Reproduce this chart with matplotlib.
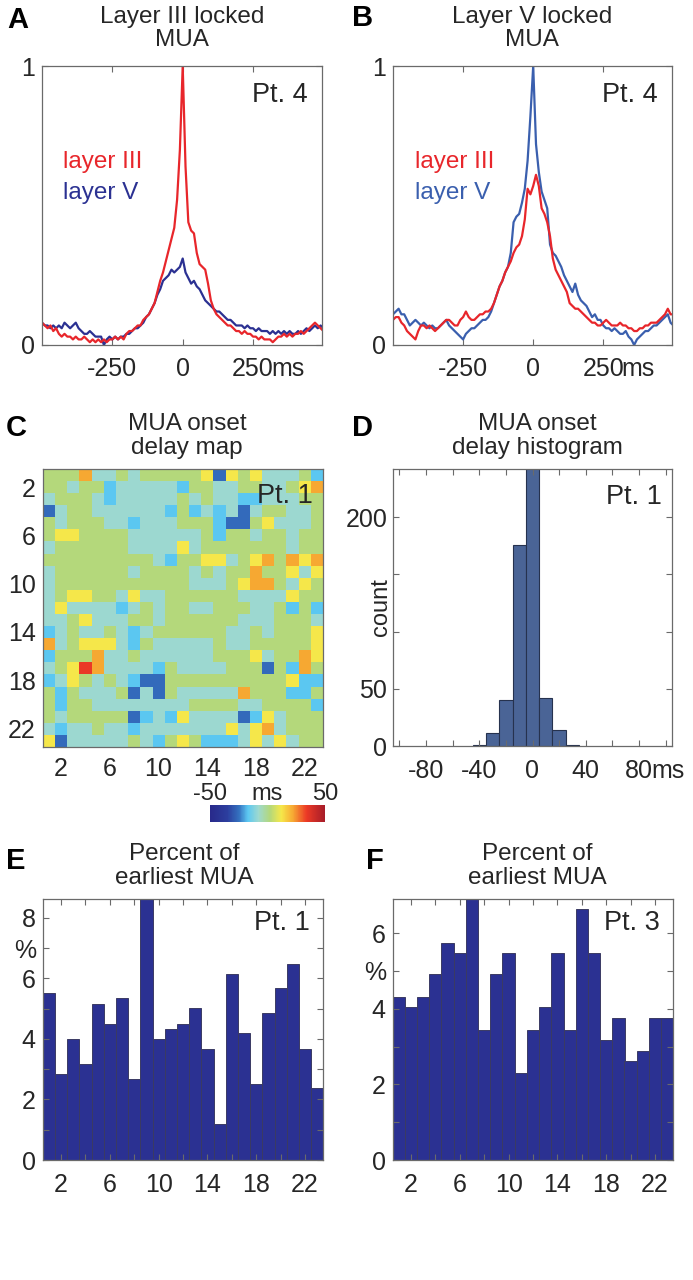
import numpy as np
import matplotlib
matplotlib.use("Agg")
import matplotlib.pyplot as plt
from matplotlib.colors import LinearSegmentedColormap

plt.rcParams['font.family'] = ['Liberation Sans', 'DejaVu Sans']

# ----------------------------------- DATA ----------------------------------- #

# lag axis for the locked MUA traces (ms)
lag_ms = np.arange(-500, 501, 10)

# panel A: layer III locked
a_layer3 = [0.08, 0.07, 0.06, 0.07, 0.05, 0.06, 0.04, 0.03, 0.04, 0.03,
            0.03, 0.02, 0.03, 0.02, 0.02, 0.03, 0.02, 0.01, 0.02, 0.01,
            0.02, 0.01, 0.02, 0.01, 0.02, 0.02, 0.03, 0.02, 0.03, 0.02,
            0.04, 0.05, 0.05, 0.06, 0.07, 0.07, 0.09, 0.10, 0.11, 0.13,
            0.15, 0.19, 0.23, 0.26, 0.30, 0.34, 0.38, 0.42, 0.52, 0.70,
            1.00,
            0.64, 0.44, 0.41, 0.40, 0.33, 0.29, 0.28, 0.27, 0.22, 0.16,
            0.13, 0.11, 0.10, 0.09, 0.08, 0.07, 0.07, 0.06, 0.05, 0.05,
            0.04, 0.05, 0.04, 0.04, 0.03, 0.03, 0.02, 0.03, 0.02, 0.02,
            0.02, 0.01, 0.02, 0.03, 0.03, 0.04, 0.03, 0.04, 0.03, 0.04,
            0.04, 0.05, 0.04, 0.05, 0.06, 0.07, 0.08, 0.07, 0.06, 0.05]
a_layer5 = [0.08, 0.07, 0.07, 0.06, 0.07, 0.06, 0.07, 0.06, 0.08, 0.07,
            0.06, 0.07, 0.08, 0.06, 0.05, 0.04, 0.04, 0.05, 0.04, 0.03,
            0.03, 0.03, 0.00, 0.02, 0.03, 0.02, 0.03, 0.02, 0.03, 0.03,
            0.04, 0.04, 0.05, 0.06, 0.06, 0.07, 0.08, 0.10, 0.11, 0.13,
            0.15, 0.18, 0.20, 0.23, 0.24, 0.25, 0.27, 0.26, 0.27, 0.28,
            0.31,
            0.26, 0.24, 0.22, 0.23, 0.21, 0.20, 0.18, 0.16, 0.15, 0.14,
            0.13, 0.12, 0.12, 0.11, 0.10, 0.09, 0.09, 0.08, 0.07, 0.07,
            0.07, 0.06, 0.07, 0.06, 0.06, 0.05, 0.06, 0.05, 0.05, 0.05,
            0.04, 0.05, 0.04, 0.05, 0.04, 0.05, 0.04, 0.05, 0.04, 0.04,
            0.05, 0.04, 0.05, 0.06, 0.05, 0.06, 0.07, 0.06, 0.07, 0.06]

# panel B: layer V locked
b_layer3 = [0.09, 0.10, 0.10, 0.08, 0.07, 0.05, 0.04, 0.03, 0.02, 0.05,
            0.07, 0.07, 0.06, 0.07, 0.06, 0.05, 0.06, 0.07, 0.08, 0.09,
            0.09, 0.08, 0.07, 0.07, 0.09, 0.10, 0.12, 0.10, 0.09, 0.09,
            0.10, 0.11, 0.11, 0.12, 0.12, 0.13, 0.15, 0.18, 0.21, 0.23,
            0.26, 0.28, 0.30, 0.33, 0.35, 0.36, 0.39, 0.45, 0.56, 0.54,
            0.57,
            0.61, 0.57, 0.49, 0.47, 0.44, 0.39, 0.31, 0.27, 0.25, 0.23,
            0.21, 0.19, 0.15, 0.14, 0.13, 0.13, 0.12, 0.11, 0.10, 0.09,
            0.08, 0.08, 0.07, 0.07, 0.08, 0.09, 0.08, 0.07, 0.07, 0.07,
            0.08, 0.07, 0.07, 0.06, 0.06, 0.05, 0.05, 0.06, 0.06, 0.07,
            0.07, 0.08, 0.08, 0.08, 0.09, 0.10, 0.11, 0.13, 0.11, 0.11]
b_layer5 = [0.11, 0.12, 0.13, 0.11, 0.11, 0.09, 0.07, 0.08, 0.09, 0.08,
            0.07, 0.08, 0.07, 0.06, 0.07, 0.06, 0.06, 0.07, 0.08, 0.09,
            0.07, 0.06, 0.05, 0.04, 0.03, 0.02, 0.04, 0.05, 0.06, 0.06,
            0.07, 0.08, 0.09, 0.09, 0.10, 0.12, 0.15, 0.18, 0.21, 0.23,
            0.26, 0.28, 0.33, 0.44, 0.46, 0.47, 0.51, 0.56, 0.66, 0.82,
            1.00,
            0.72, 0.62, 0.55, 0.52, 0.49, 0.36, 0.33, 0.32, 0.30, 0.28,
            0.25, 0.23, 0.21, 0.19, 0.22, 0.18, 0.16, 0.15, 0.14, 0.12,
            0.10, 0.11, 0.09, 0.09, 0.07, 0.06, 0.06, 0.05, 0.06, 0.05,
            0.04, 0.04, 0.05, 0.03, 0.02, 0.00, 0.02, 0.03, 0.04, 0.05,
            0.05, 0.06, 0.07, 0.07, 0.08, 0.09, 0.10, 0.11, 0.08, 0.07]

# panel C: onset delay map, one string per electrode row, one letter per column
delay_rows = [
    "GGGOAAGAGGGGGYDYGYAAAGL",
    "GGAGGLAAAAALGGAAGGAAGYO",
    "AGGGALAAAAAGAGAALLAAAGG",
    "DAGGAAAAAALGLALADAGGAAG",
    "GAGGGAALAAAGGGLDDGYAAAG",
    "GYYGGGGAAAAAAGLGGAGGAGG",
    "AGGGGGGAAAAYAGGGGGGGAGG",
    "GGGGGGGGGALGGYYAGYOGOYO",
    "AGGGGGGAGGGGAGAGGOGGYAY",
    "AGGGGGGGGGGGAAAGYOOGAYG",
    "AGYYGGAYAAGGGGGGAAAAYGG",
    "AYAAAALAGAGGAAGGGAAGLGL",
    "AAGYAAAGGAGGGGGGAAAGGGA",
    "LAGAAGALAGGGGGGAAGAGGGY",
    "OAGYYYALGAAAAAGAAGGGGGY",
    "LGGGOAAGAAAAAAGGGYAGGOY",
    "AGYROAAAALGAAAAGGGDGLOG",
    "LAYGAGALDDGGGGGGGGGGYLL",
    "GLGAAAGDADGAAAAAOGGGLLG",
    "GLGGAAAAAAAAGGGGAAGGGGL",
    "GAGGGGGDLALYAAAADLYAGGG",
    "ALAAGAALAAAAAAAYAYOAGGG",
    "YDAAAAAGALGYGLLLAYAYAGG",
]
delay_code_ms = {'D': -26, 'L': -17, 'A': -8, 'G': 2, 'Y': 12, 'O': 22, 'R': 34}

# panel D: onset delay histogram
hist_centers = [-40, -30, -20, -10, 0, 10, 20, 30]
hist_counts = [1, 11, 40, 176, 250, 42, 14, 1]

# panels E, F: percent of earliest MUA per electrode column
earliest_pt1 = [5.52, 2.84, 3.99, 3.17, 5.15, 4.50, 5.34, 2.68, 8.90, 3.99, 4.32, 4.50,
                5.02, 3.66, 1.19, 6.15, 4.18, 2.51, 4.84, 5.67, 6.48, 3.66, 2.37]
earliest_pt3 = [4.32, 4.04, 4.32, 4.91, 5.75, 5.46, 7.10, 3.45, 4.91, 5.46, 2.31, 3.45,
                4.04, 5.46, 3.45, 6.63, 5.46, 3.17, 3.76, 2.61, 2.89, 3.76, 3.76]
electrodes = np.arange(1, 24)

# ---------------------------------- STYLE ----------------------------------- #

RED = '#e8262b'
NAVY = '#2b3192'
MIDBLUE = '#3a5fae'
TXT = '#262626'
SPINE = '#6a6a6a'
TICK_FS = 18
TITLE_FS = 17.5
PT_FS = 19.5

W, H = 693, 1280
fig = plt.figure(figsize=(W / 100, H / 100), dpi=100)


def px_axes(l, t, r, b):
    return fig.add_axes([l / W, 1 - b / H, (r - l) / W, (b - t) / H])


def style(ax, xpad=9, ypad=5):
    for s in ax.spines.values():
        s.set_color(SPINE)
        s.set_linewidth(0.9)
    ax.tick_params(direction='in', top=True, right=True, length=4, width=0.8,
                   colors=SPINE, labelcolor=TXT, labelsize=TICK_FS)
    ax.tick_params(axis='x', pad=xpad)
    ax.tick_params(axis='y', pad=ypad)


def title(xc, yc, text):
    fig.text(xc / W, 1 - yc / H, text, ha='center', va='center',
             fontsize=TITLE_FS, color=TXT, linespacing=1.08)


def letter(x, y, s):
    fig.text(x / W, 1 - y / H, s, ha='left', va='top', fontsize=21,
             fontweight='bold', color='black')


def pt_label(ax, s, x, y):
    ax.text(x, y, s, transform=ax.transAxes, ha='right', va='center',
            fontsize=PT_FS, color=TXT)


def ms_suffix(ax, xval, half_w):
    ax.annotate('ms', xy=(xval, 0), xycoords=('data', 'axes fraction'),
                xytext=(half_w, -9), textcoords='offset points',
                ha='left', va='top', fontsize=TICK_FS, color=TXT)


# ------------------------------ A / B: traces ------------------------------- #

for (l, r), l3, l5, c5, ttl, tx, lx in [
        ((42, 322), a_layer3, a_layer5, NAVY, 'Layer III locked\nMUA', 182, 0.075),
        ((393, 672), b_layer3, b_layer5, MIDBLUE, 'Layer V locked\nMUA', 532, 0.08)]:
    ax = px_axes(l, 66, r, 345)
    ax.plot(lag_ms, l5, color=c5, lw=1.6)
    ax.plot(lag_ms, l3, color=RED, lw=1.6)
    ax.set_xlim(-500, 495)
    ax.set_ylim(0, 1)
    ax.set_xticks([-250, 0, 250])
    ax.set_xticklabels(['-250', '0', '250'])
    ax.set_yticks([0, 1])
    ax.set_yticklabels(['0', '1'])
    style(ax)
    ms_suffix(ax, 250, 13.3)
    ax.text(lx, 0.656, 'layer III', transform=ax.transAxes, color=RED,
            fontsize=17.5, va='center', ha='left')
    ax.text(lx, 0.545, 'layer V', transform=ax.transAxes, color=c5,
            fontsize=17.5, va='center', ha='left')
    pt_label(ax, 'Pt. 4', 0.95, 0.895)
    title(tx, 28.5, ttl)

letter(7, 6, 'A')
letter(352, 4, 'B')

# ------------------------------ C: delay map -------------------------------- #

cmap = LinearSegmentedColormap.from_list('delay', [
    (0.00, '#28298a'), (0.15, '#2c3e9e'), (0.25, '#3470bf'), (0.33, '#5cc8f2'),
    (0.42, '#9dd9d0'), (0.52, '#b3d87c'), (0.62, '#f6e84a'), (0.72, '#f7aa33'),
    (0.84, '#ec3a26'), (1.00, '#a61c29')])

delay_ms = np.array([[delay_code_ms[c] for c in row] for row in delay_rows], float)

axc = px_axes(42.7, 469, 322.7, 746.7)
im = axc.imshow(delay_ms, cmap=cmap, vmin=-50, vmax=50, aspect='auto',
                interpolation='nearest', extent=(0.5, 23.5, 23.5, 0.5))
ticks = [2, 6, 10, 14, 18, 22]
axc.set_xticks(ticks)
axc.set_yticks(ticks)
style(axc, xpad=7.5)
axc.tick_params(length=0)
pt_label(axc, 'Pt. 1', 0.965, 0.903)
title(187, 436, 'MUA onset\ndelay map')
letter(6, 414, 'C')

cax = px_axes(210, 805, 325, 822)
cb = fig.colorbar(im, cax=cax, orientation='horizontal')
cb.outline.set_linewidth(0)
cax.xaxis.set_ticks_position('top')
cax.set_xticks([-50, 0, 50])
cax.set_xticklabels(['-50', 'ms', '50'])
cax.tick_params(length=0, pad=0, labelsize=17, labelcolor=TXT)

# ------------------------------ D: histogram -------------------------------- #

axd = px_axes(392.7, 469, 672.3, 746)
axd.bar(hist_centers, hist_counts, width=10, color='#4a6496',
        edgecolor='#26324e', linewidth=0.8)
axd.set_xlim(-105, 105)
axd.set_ylim(0, 242)
xt = np.arange(-100, 101, 20)
axd.set_xticks(xt)
axd.set_xticklabels([str(v) if v in (-80, -40, 0, 40, 80) else '' for v in xt])
axd.set_yticks([0, 50, 100, 150, 200])
axd.set_yticklabels(['0', '50', '', '', '200'])
style(axd, ypad=4)
ms_suffix(axd, 80, 8.6)
axd.set_ylabel('count', fontsize=17, color=TXT)
axd.yaxis.set_label_coords(-0.002, 0.5)
pt_label(axd, 'Pt. 1', 0.962, 0.90)
title(537, 436, 'MUA onset\ndelay histogram')
letter(352, 414, 'D')

# --------------------------- E / F: earliest MUA ---------------------------- #

for (l, r), vals, ytop, pct_at, pt, tx, let, lx in [
        ((42.7, 323.3), earliest_pt1, 8.62, 7, 'Pt. 1', 184, 'E', 6),
        ((392.7, 673.3), earliest_pt3, 6.9, 5, 'Pt. 3', 537, 'F', 366)]:
    ax = px_axes(l, 899, r, 1160)
    ax.bar(electrodes, vals, width=1.0, color=NAVY, edgecolor='#3b3b63',
           linewidth=0.7)
    ax.set_xlim(0.5, 23.5)
    ax.set_ylim(0, ytop)
    xt = np.arange(2, 23, 2)
    ax.set_xticks(xt)
    ax.set_xticklabels([str(v) if v in ticks else '' for v in xt])
    yt = np.arange(0, int(ytop) + 1)
    ax.set_yticks(yt)
    ax.set_yticklabels(['%' if v == pct_at else (str(v) if v % 2 == 0 else '')
                        for v in yt])
    style(ax)
    pt_label(ax, pt, 0.953, 0.908)
    title(tx, 866, 'Percent of\nearliest MUA')
    letter(lx, 847, let)

fig.savefig('out.png', dpi=100, facecolor='white')
